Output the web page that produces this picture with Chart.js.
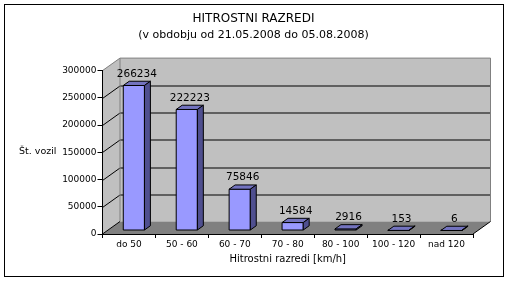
<!DOCTYPE html>
<html>
<head>
<meta charset="utf-8">
<script src="https://cdn.jsdelivr.net/npm/chart.js@4"></script>
<style>
html, body { margin: 0; padding: 0; background: #fff; }
</style>
</head>
<body>
<canvas id="hitrostChart" width="510" height="282"></canvas>
<script>
// data
const categories = ['do 50', '50 - 60', '60 - 70', '70 - 80', '80 - 100', '100 - 120', 'nad 120'];
const vehicleCounts = [266234, 222223, 75846, 14584, 2916, 153, 6];
const yTicks = [0, 50000, 100000, 150000, 200000, 250000, 300000];

// 3D look (excel style box)
const DX = 17.5, DY = -12.5;     // depth of the box
const BAR_Z0 = 0.28, BAR_Z = 0.34; // where bars sit inside the depth
const WALL = '#C0C0C0', FLOOR = '#808080', EDGE = '#808080';
const BAR_FRONT = '#9999FF', BAR_TOP = '#7373BF', BAR_SIDE = '#4F4F8F';

function poly(ctx, pts, fill, stroke) {
    ctx.beginPath();
    ctx.moveTo(pts[0][0], pts[0][1]);
    for (let i = 1; i < pts.length; i++) ctx.lineTo(pts[i][0], pts[i][1]);
    ctx.closePath();
    if (fill) { ctx.fillStyle = fill; ctx.fill(); }
    if (stroke) { ctx.strokeStyle = stroke; ctx.stroke(); }
}

const box3d = {
    id: 'box3d',
    beforeDraw(chart) {
        const ctx = chart.ctx;
        const {left, right, top, bottom} = chart.chartArea;
        const ys = chart.scales.y;
        ctx.save();
        ctx.fillStyle = '#fff';
        ctx.fillRect(0, 0, chart.width, chart.height);
        ctx.lineWidth = 1;
        ctx.strokeStyle = '#000';
        ctx.strokeRect(4.5, 4.5, 499, 272);

        // walls + floor
        poly(ctx, [[left, top], [left + DX, top + DY], [left + DX, bottom + DY], [left, bottom]], WALL, null);
        poly(ctx, [[left + DX, top + DY], [right + DX, top + DY], [right + DX, bottom + DY], [left + DX, bottom + DY]], WALL, null);
        poly(ctx, [[left, bottom], [left + DX, bottom + DY], [right + DX, bottom + DY], [right, bottom]], FLOOR, null);

        // grid on the walls
        ys.ticks.forEach(t => {
            if (t.value === ys.min || t.value === ys.max) return;
            const y = Math.round(ys.getPixelForValue(t.value)) + 0.5;
            ctx.beginPath();
            ctx.moveTo(left, y);
            ctx.lineTo(left + DX, y + DY);
            ctx.lineTo(right + DX, y + DY);
            ctx.strokeStyle = '#000';
            ctx.stroke();
        });

        // wall edges
        ctx.beginPath();
        ctx.moveTo(left, top);
        ctx.lineTo(left + DX, top + DY);
        ctx.lineTo(right + DX, top + DY);
        ctx.lineTo(right + DX, bottom + DY);
        ctx.moveTo(left + DX, top + DY);
        ctx.lineTo(left + DX, bottom + DY);
        ctx.strokeStyle = EDGE;
        ctx.stroke();
        ctx.beginPath();
        ctx.moveTo(left, bottom);
        ctx.lineTo(left + DX, bottom + DY);
        ctx.moveTo(right, bottom);
        ctx.lineTo(right + DX, bottom + DY);
        ctx.strokeStyle = '#000';
        ctx.stroke();
        ctx.restore();
    },
    afterDatasetsDraw(chart) {
        const ctx = chart.ctx;
        const meta = chart.getDatasetMeta(0);
        const values = chart.data.datasets[0].data;
        ctx.save();
        ctx.lineWidth = 1;
        ctx.lineJoin = 'round';
        meta.data.forEach((el, i) => {
            const {x, y, base, width} = el.getProps(['x', 'y', 'base', 'width'], true);
            const x0 = x - width / 2 + BAR_Z0 * DX, x1 = x + width / 2 + BAR_Z0 * DX;
            const yt = y + BAR_Z0 * DY, yb = base + BAR_Z0 * DY;
            const ox = BAR_Z * DX, oy = BAR_Z * DY;
            poly(ctx, [[x0, yt], [x1, yt], [x1, yb], [x0, yb]], BAR_FRONT, '#000');
            poly(ctx, [[x0, yt], [x0 + ox, yt + oy], [x1 + ox, yt + oy], [x1, yt]], BAR_TOP, '#000');
            poly(ctx, [[x1, yt], [x1 + ox, yt + oy], [x1 + ox, yb + oy], [x1, yb]], BAR_SIDE, '#000');

            // value label
            ctx.fillStyle = '#000';
            ctx.font = '10.5px "DejaVu Sans"';
            ctx.textAlign = 'center';
            ctx.textBaseline = 'bottom';
            ctx.fillText(String(values[i]), (x0 + x1) / 2 + ox / 2, yt + oy - 2);
        });
        ctx.restore();
    },
    afterDraw(chart) {
        const ctx = chart.ctx;
        ctx.save();
        ctx.fillStyle = '#000';
        ctx.font = '9.5px "DejaVu Sans"';
        ctx.textAlign = 'left';
        ctx.textBaseline = 'middle';
        ctx.fillText('Št. vozil', 19, 152);
        ctx.restore();
    }
};

Chart.defaults.font.family = '"DejaVu Sans", sans-serif';
Chart.defaults.color = '#000';

new Chart(document.getElementById('hitrostChart'), {
    type: 'bar',
    data: {
        labels: categories,
        datasets: [{
            data: vehicleCounts,
            backgroundColor: 'rgba(0,0,0,0)',
            borderWidth: 0,
            categoryPercentage: 1.0,
            barPercentage: 0.4
        }]
    },
    options: {
        responsive: false,
        animation: false,
        devicePixelRatio: 1,
        layout: { padding: { left: 34, right: 37, top: 5, bottom: 0 } },
        plugins: {
            legend: { display: false },
            tooltip: { enabled: false },
            title: {
                display: true,
                text: 'HITROSTNI RAZREDI',
                color: '#000',
                font: { size: 12, weight: 'normal', lineHeight: 1.2 },
                padding: { top: 7, bottom: 1 }
            },
            subtitle: {
                display: true,
                text: '(v obdobju od 21.05.2008 do 05.08.2008)',
                color: '#000',
                font: { size: 11, weight: 'normal', lineHeight: 1.2 },
                padding: { top: 1, bottom: 29 }
            }
        },
        scales: {
            x: {
                grid: { drawOnChartArea: false, tickLength: 4, color: '#000', offset: true },
                border: { color: '#000' },
                ticks: { font: { size: 9 }, padding: 1, maxRotation: 0, autoSkip: false },
                title: {
                    display: true,
                    text: 'Hitrostni razredi [km/h]',
                    font: { size: 10 },
                    padding: { top: 0, bottom: 17 }
                },
                afterFit: s => { s.height = 48; }
            },
            y: {
                min: 0,
                max: 300000,
                afterBuildTicks: s => { s.ticks = yTicks.map(v => ({ value: v })); },
                grid: { drawOnChartArea: false, tickLength: 5, color: '#000' },
                border: { color: '#000' },
                ticks: { font: { size: 9 }, padding: 1, callback: v => String(v) },
                afterFit: s => { s.width = 68.5; }
            }
        }
    },
    plugins: [box3d]
});
</script>
</body>
</html>
